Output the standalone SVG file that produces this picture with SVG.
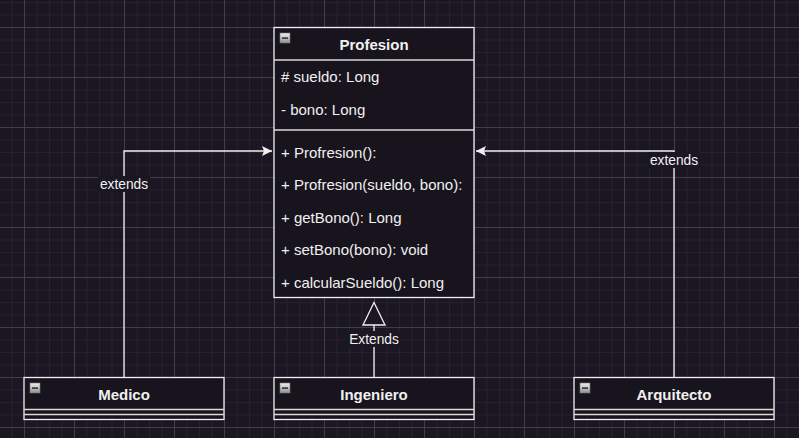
<svg xmlns="http://www.w3.org/2000/svg" width="799" height="438" viewBox="0 0 799 438">
<style>
.box{fill:#18141d;stroke:#f0f0f0;stroke-width:1.3}
.sep{stroke:#d8d8d8;stroke-width:1.3;fill:none}
.title{font-family:"Liberation Sans",Arial,sans-serif;font-size:15px;font-weight:bold;fill:#f0f0f0;text-anchor:middle}
.item{font-family:"Liberation Sans",Arial,sans-serif;font-size:15px;fill:#f0f0f0}
.lbl{font-family:"Liberation Sans",Arial,sans-serif;font-size:13.75px;fill:#f0f0f0;text-anchor:middle}
.edge{stroke:#f0f0f0;stroke-width:1.3;fill:none}
.lblbg{fill:#1a1722}
</style>
<defs>
<pattern id="minor" x="24" y="27" width="12.5" height="12.5" patternUnits="userSpaceOnUse">
<path d="M0 0.5H12.5M0.5 0V12.5" stroke="#25222e" stroke-width="1" fill="none"/>
</pattern>
<pattern id="major" x="24" y="27" width="50" height="50" patternUnits="userSpaceOnUse">
<path d="M0 0.5H50M0.5 0V50" stroke="#403d49" stroke-width="1" fill="none"/>
</pattern>
<linearGradient id="icon" x1="0" y1="0" x2="0" y2="1">
<stop offset="0" stop-color="#f0f0f0"/>
<stop offset="1" stop-color="#909090"/>
</linearGradient>
<marker id="fill" viewBox="0 0 10 10" refX="10" refY="5" markerWidth="10" markerHeight="10" markerUnits="userSpaceOnUse" orient="auto">
<path d="M0 0L10 5L0 10L2 5Z" fill="#f0f0f0"/>
</marker>
<g id="ico"><rect x="0" y="0" width="10" height="10" fill="url(#icon)" stroke="#777" stroke-width="0.6"/><rect x="2" y="4.4" width="6" height="1.4" fill="#222"/></g>
</defs>
<rect width="799" height="438" fill="#1a1722"/>
<rect width="799" height="438" fill="url(#minor)"/>
<rect width="799" height="438" fill="url(#major)"/>

<g id="connectors">
<path class="edge" d="M124 377.5V151H272" marker-end="url(#fill)"/>
<path class="edge" d="M674 377.5V151H476" marker-end="url(#fill)"/>
<path class="edge" d="M374 377.5V325"/>
<path d="M374 302.5L363 325H385Z" fill="#1a1722" stroke="#f0f0f0" stroke-width="1.3"/>
<rect class="lblbg" x="98" y="176" width="52" height="16"/>
<text class="lbl" x="124" y="189">extends</text>
<rect class="lblbg" x="648" y="152" width="52" height="16"/>
<text class="lbl" x="674" y="165">extends</text>
<rect class="lblbg" x="346" y="331" width="56" height="16"/>
<text class="lbl" x="374" y="344">Extends</text>
</g>

<g id="Profesion">
<rect class="box" x="274" y="27.5" width="200" height="270"/>
<line class="sep" x1="274" y1="60" x2="474" y2="60"/>
<line class="sep" x1="274" y1="130" x2="474" y2="130"/>
<use href="#ico" x="280" y="33"/>
<text class="title" x="374" y="49.5">Profesion</text>
<text class="item" x="281" y="81.5"># sueldo: Long</text>
<text class="item" x="281" y="114.5">- bono: Long</text>
<text class="item" x="281" y="157.5">+ Profresion():</text>
<text class="item" x="281" y="190">+ Profresion(sueldo, bono):</text>
<text class="item" x="281" y="222.5">+ getBono(): Long</text>
<text class="item" x="281" y="255">+ setBono(bono): void</text>
<text class="item" x="281" y="287.5">+ calcularSueldo(): Long</text>
</g>

<g id="Medico">
<rect class="box" x="24" y="377.5" width="200" height="42"/>
<line class="sep" x1="24" y1="409.5" x2="224" y2="409.5" stroke-width="2"/>
<line class="sep" x1="24" y1="414.5" x2="224" y2="414.5"/>
<use href="#ico" x="30" y="383"/>
<text class="title" x="124" y="399.5">Medico</text>
</g>

<g id="Ingeniero">
<rect class="box" x="274" y="377.5" width="200" height="42"/>
<line class="sep" x1="274" y1="409.5" x2="474" y2="409.5" stroke-width="2"/>
<line class="sep" x1="274" y1="414.5" x2="474" y2="414.5"/>
<use href="#ico" x="280" y="383"/>
<text class="title" x="374" y="399.5">Ingeniero</text>
</g>

<g id="Arquitecto">
<rect class="box" x="574" y="377.5" width="200" height="42"/>
<line class="sep" x1="574" y1="409.5" x2="774" y2="409.5" stroke-width="2"/>
<line class="sep" x1="574" y1="414.5" x2="774" y2="414.5"/>
<use href="#ico" x="580" y="383"/>
<text class="title" x="674" y="399.5">Arquitecto</text>
</g>
</svg>
